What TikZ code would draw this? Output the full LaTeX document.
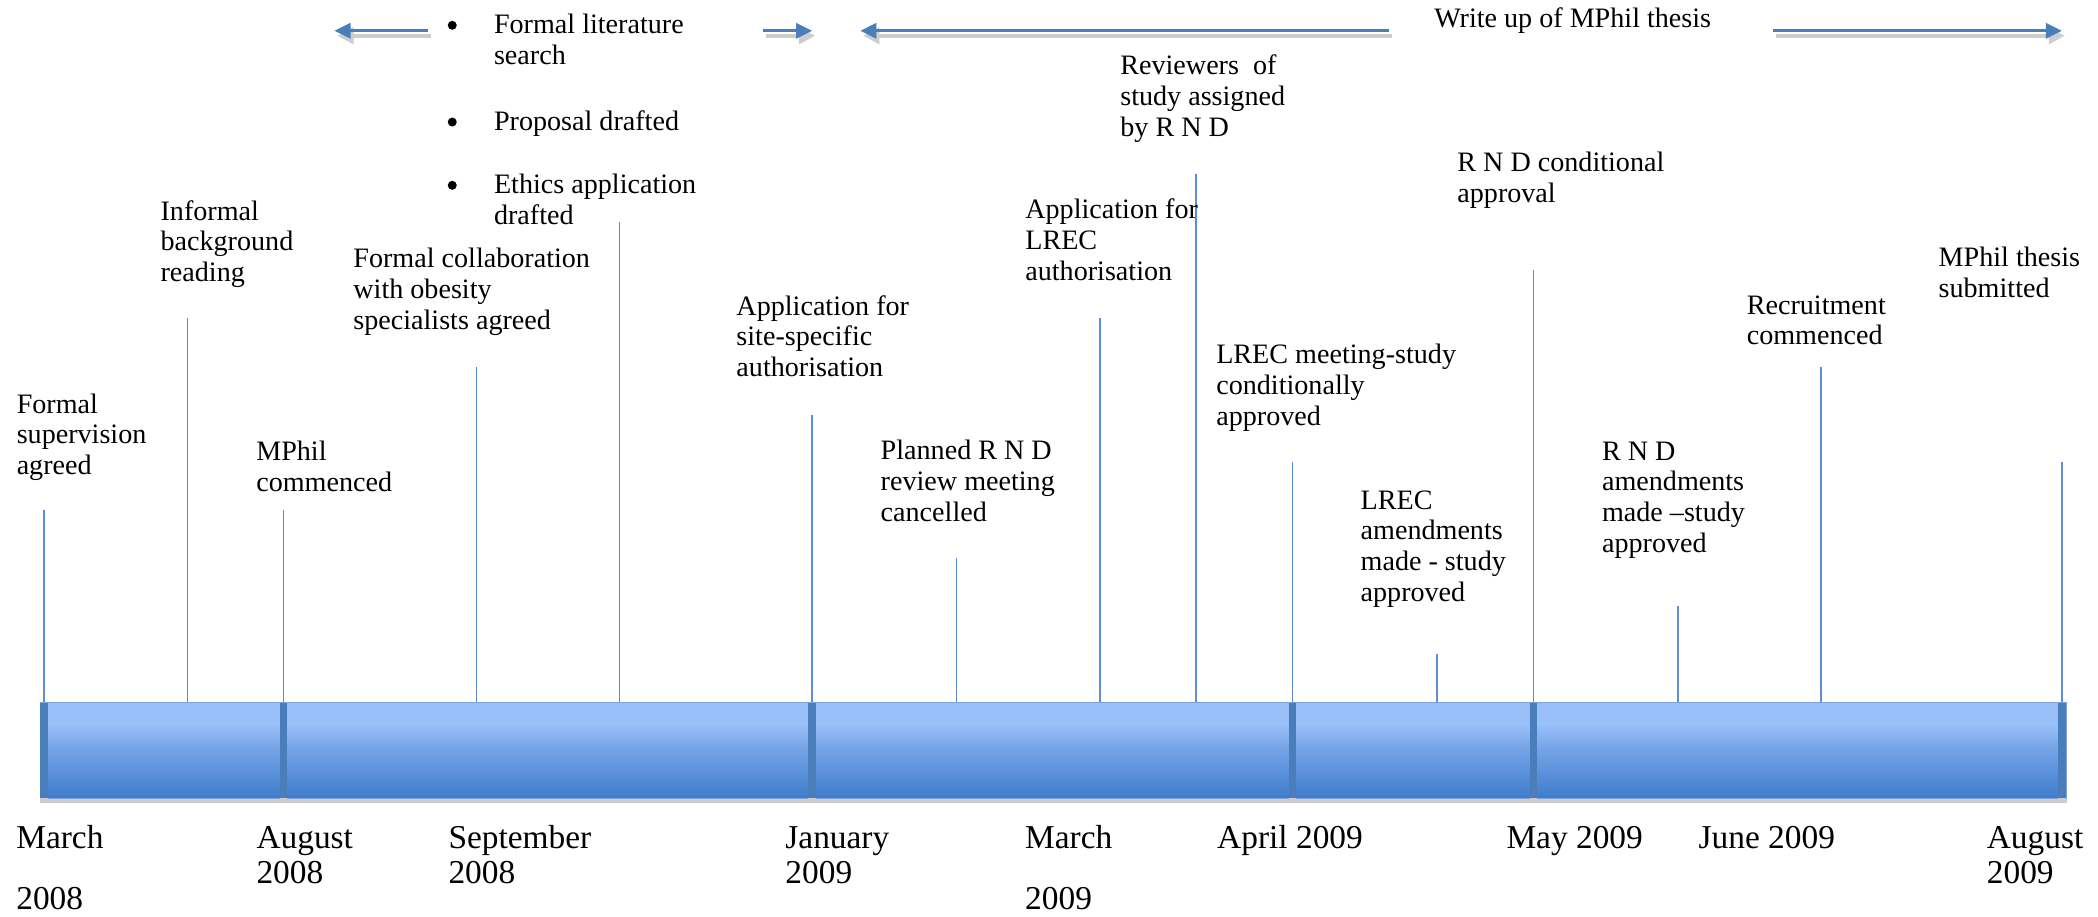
\documentclass[tikz,border=0pt]{standalone}
\usepackage{fontspec}
\setmainfont{Liberation Serif}
\usetikzlibrary{arrows.meta,shadows}
\definecolor{barlight}{HTML}{9AC0FA}
\definecolor{barmid}{HTML}{78A5E8}
\definecolor{bardark}{HTML}{3E7CCC}
\definecolor{barline}{HTML}{7DA3DC}
\definecolor{divblue}{HTML}{4A7EBB}
\definecolor{tickblue}{HTML}{5F8FD3}
\definecolor{arrowblue}{HTML}{4A7EBB}
\definecolor{shadowgrey}{HTML}{CDCDCD}
\pgfdeclareverticalshading{barshade}{100bp}{color(0bp)=(bardark); color(25bp)=(bardark); color(52bp)=(barmid); color(64bp)=(barlight); color(100bp)=(barlight)}
\newcommand{\evfont}{\fontsize{8}{8.77}\selectfont}
\newcommand{\datefont}{\fontsize{9.5}{10.1}\selectfont}
\begin{document}
\begin{tikzpicture}[x=0.1338mm,y=-0.1338mm,
      evtext/.style={font=\evfont,align=left,anchor=base west,inner sep=0pt},
      datetext/.style={font=\datefont,align=left,anchor=base west,inner sep=0pt},
      timebar/.style={shade,shading=barshade,draw=barline,line width=0.3pt,minimum width=202.6mm,minimum height=9.57mm,inner sep=0pt,
        drop shadow={shadow xshift=0.1mm,shadow yshift=-0.5mm,fill=shadowgrey,opacity=1}},
      divider/.style={fill=divblue,minimum width=0.75mm,minimum height=9.57mm,inner sep=0pt,
        drop shadow={shadow xshift=0mm,shadow yshift=-0.5mm,fill=shadowgrey,opacity=1}},
      tick/.style={tickblue,line width=0.4pt},
      dot/.style={circle,fill=black,inner sep=0pt,minimum size=0.9mm},
      arrow/.style={arrowblue,line width=0.8pt,-{Triangle[length=1.6mm,width=1.5mm]}},
      arrowshadow/.style={shadowgrey,line width=1.1pt,-{Triangle[length=1.6mm,width=1.6mm]},transform canvas={xshift=0.3mm,yshift=-0.5mm}}]
      \useasboundingbox (0,0) rectangle (1568,685);
      % the time bar and its month marks
      \node[timebar] (bar) at (787,561) {};
      \node[divider] (dv1) at (33,561) {}; \node[divider] (dv2) at (212,561) {};
      \node[divider] (dv3) at (607,561) {}; \node[divider] (dv4) at (966,561) {};
      \node[divider] (dv5) at (1146,561) {}; \node[divider] (dv6) at (1541,561) {};
      % tops of the event lines
      \coordinate (tsup) at (33,381); \coordinate (tinform) at (140,238);
      \coordinate (tmphil) at (212,381); \coordinate (tcollab) at (356,274);
      \coordinate (tethics) at (463,166); \coordinate (tsite) at (607,310);
      \coordinate (tplanned) at (715,417); \coordinate (tlrecapp) at (822,238);
      \coordinate (treview) at (894,130); \coordinate (tlrecmeet) at (966,345);
      \coordinate (tlrecamend) at (1074,489); \coordinate (trndcond) at (1146,202);
      \coordinate (trndamend) at (1254,453); \coordinate (trecruit) at (1361,274);
      \coordinate (tsubmit) at (1541,345);
      \draw[tick] (tsup)--(tsup |- bar.north); \draw[tick] (tinform)--(tinform |- bar.north);
      \draw[tick] (tmphil)--(tmphil |- bar.north); \draw[tick] (tcollab)--(tcollab |- bar.north);
      \draw[tick] (tethics)--(tethics |- bar.north); \draw[tick] (tsite)--(tsite |- bar.north);
      \draw[tick] (tplanned)--(tplanned |- bar.north); \draw[tick] (tlrecapp)--(tlrecapp |- bar.north);
      \draw[tick] (treview)--(treview |- bar.north); \draw[tick] (tlrecmeet)--(tlrecmeet |- bar.north);
      \draw[tick] (tlrecamend)--(tlrecamend |- bar.north); \draw[tick] (trndcond)--(trndcond |- bar.north);
      \draw[tick] (trndamend)--(trndamend |- bar.north); \draw[tick] (trecruit)--(trecruit |- bar.north);
      \draw[tick] (tsubmit)--(tsubmit |- bar.north);
      % events (placed by the baseline of their last line)
      \node[evtext] (sup) at (12,354.8) {Formal\\supervision\\agreed};
      \node[evtext] (inform) at (119.5,210.6) {Informal\\background\\reading};
      \node[evtext] (mphil) at (191,367) {MPhil\\commenced};
      \node[evtext] (collab) at (263.6,246.2) {Formal collaboration\\with obesity\\specialists agreed};
      \node[dot] (dot1) at (338,18.9) {}; \node[dot] (dot2) at (338,91.2) {}; \node[dot] (dot3) at (338,138.5) {};
      \node[evtext] (litsearch) at (368.7,48.4) {Formal literature\\search};
      \node[evtext] (proposal) at (368.7,97.2) {Proposal drafted};
      \node[evtext] (ethics) at (368.7,168) {Ethics application\\drafted};
      \node[evtext] (siteapp) at (549.9,281.5) {Application for\\site-specific\\authorisation};
      \node[evtext] (planned) at (657.7,389.7) {Planned R N D\\review meeting\\cancelled};
      \node[evtext] (lrecapp) at (765.8,209.6) {Application for\\LREC\\authorisation};
      \node[evtext] (reviewers) at (836.8,102) {Reviewers\ \ of\\study assigned\\by R N D};
      \node[evtext] (lrecmeet) at (908.5,317.9) {LREC meeting-study\\conditionally\\approved};
      \node[evtext] (lrecamend) at (1016.4,449.6) {LREC\\amendments\\made - study\\approved};
      \node[evtext] (rndcond) at (1088.7,151.5) {R N D conditional\\approval};
      \node[evtext] (rndamend) at (1196.8,412.9) {R N D\\amendments\\made –study\\approved};
      \node[evtext] (recruit) at (1305,257.8) {Recruitment\\commenced};
      \node[evtext] (submitted) at (1448.4,222.5) {MPhil thesis\\submitted};
      \node[evtext] (writeup) at (1071.4,20.4) {Write up of MPhil thesis};
      % spans at the top
      \coordinate (a1tail) at (320,23); \coordinate (a1tip) at (250,23);
      \coordinate (a2tail) at (570,23); \coordinate (a2tip) at (607,23);
      \coordinate (a3tail) at (1038,23); \coordinate (a3tip) at (643,23);
      \coordinate (a4tail) at (1325,23); \coordinate (a4tip) at (1541,23);
      \draw[arrowshadow] (a1tail)--(a1tip); \draw[arrowshadow] (a2tail)--(a2tip);
      \draw[arrowshadow] (a3tail)--(a3tip); \draw[arrowshadow] (a4tail)--(a4tip);
      \draw[arrow] (a1tail)--(a1tip); \draw[arrow] (a2tail)--(a2tip);
      \draw[arrow] (a3tail)--(a3tip); \draw[arrow] (a4tail)--(a4tip);
      % dates
      \node[datetext] (mar08) at (11.7,680) {March\\[7.3pt]2008};
      \node[datetext] (aug08) at (191.2,660.5) {August\\2008};
      \node[datetext] (sep08) at (334.7,660.5) {September\\2008};
      \node[datetext] (jan09) at (586.5,660.5) {January\\2009};
      \node[datetext] (mar09) at (765.7,680) {March\\[7.3pt]2009};
      \node[datetext] (apr09) at (909.2,634) {April 2009};
      \node[datetext] (may09) at (1125.4,634) {May 2009};
      \node[datetext] (jun09) at (1269,634) {June 2009};
      \node[datetext] (aug09) at (1484.4,660.5) {August\\2009};
    \end{tikzpicture}
\end{document}
